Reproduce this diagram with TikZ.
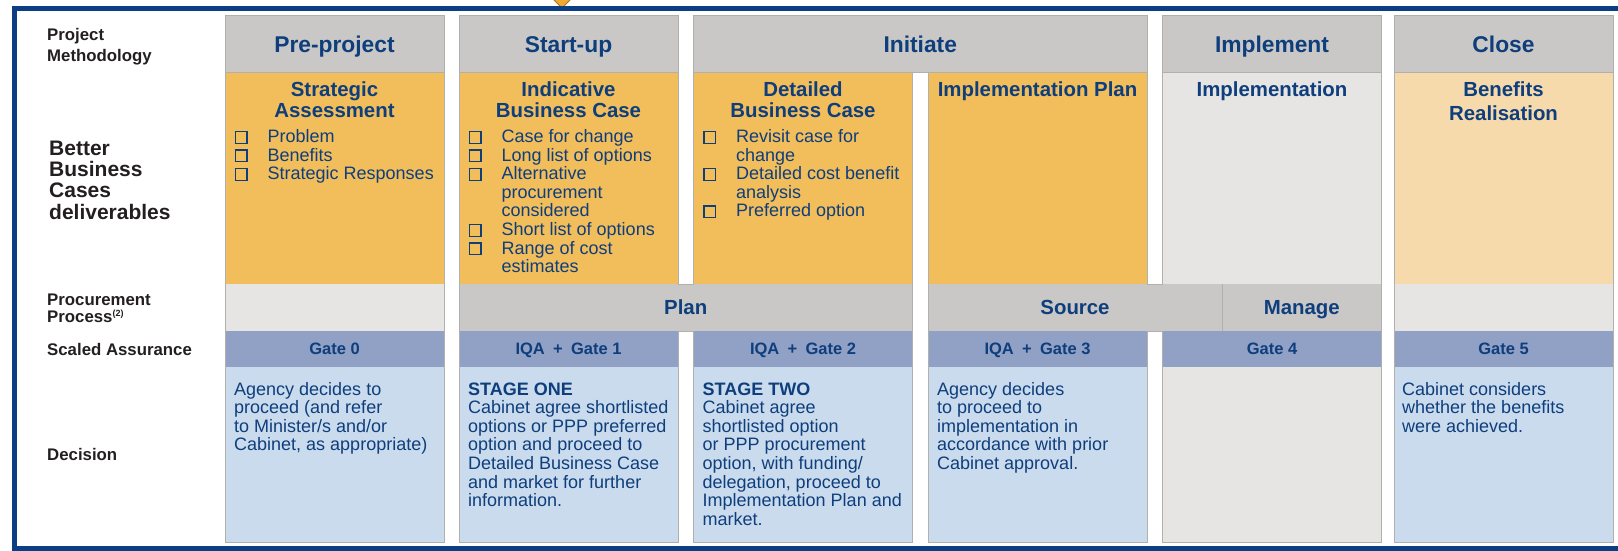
\documentclass[tikz,border=0pt]{standalone}
\usepackage{fontspec}
\setmainfont{Liberation Sans}
\usetikzlibrary{positioning}

\definecolor{frameblue}{RGB}{12,62,132}
\definecolor{inkblue}{RGB}{14,62,124}
\definecolor{labink}{RGB}{35,31,32}
\definecolor{phasegray}{RGB}{201,200,198}
\definecolor{edgegray}{RGB}{176,176,174}
\definecolor{bbcorange}{RGB}{242,189,91}
\definecolor{bbcpale}{RGB}{247,218,172}
\definecolor{palegray}{RGB}{230,229,228}
\definecolor{gateblue}{RGB}{145,160,197}
\definecolor{decblue}{RGB}{202,219,237}
\definecolor{markorange}{RGB}{240,170,50}

% empty tick box in front of each deliverable
\newcommand{\chkbox}{{\setlength{\fboxsep}{0pt}\setlength{\fboxrule}{1.3pt}\fbox{\rule{0pt}{10.4pt}\hspace{10.4pt}}}}
% stacked lines whose baseline is the first one
\newcommand{\textlines}[2][l]{\begin{tabular}[t]{@{}#1@{}}#2\end{tabular}}

\begin{document}
\begin{tikzpicture}[x=1pt,y=-1pt,
  cell/.style={anchor=north west,inner sep=0pt,outer sep=0pt,minimum width=219pt,text=inkblue},
  phase/.style={cell,fill=phasegray,draw=edgegray,line width=1pt,minimum height=56.6pt,text height=16.3pt,text depth=0pt,font=\fontsize{22.8}{24}\selectfont\bfseries},
  bbc/.style={cell,fill=#1,minimum height=211.4pt},
  proc/.style={cell,fill=#1,minimum height=47pt,text height=14.6pt,text depth=0pt,font=\fontsize{20.4}{22}\selectfont\bfseries},
  gate/.style={cell,fill=gateblue,minimum height=36pt,text height=11.8pt,text depth=0pt,font=\fontsize{16.5}{18}\selectfont\bfseries},
  dec/.style={cell,fill=#1,minimum height=175pt},
  edge/.style={draw=edgegray,line width=1pt},
  ttl/.style={anchor=base,inner sep=0pt,text=inkblue,font=\fontsize{20.4}{21}\selectfont\bfseries},
  txt/.style={anchor=base west,inner sep=0pt,text=inkblue,font=\fontsize{18}{18.6}\selectfont},
  lab/.style={anchor=base west,inner sep=0pt,text=labink,font=\fontsize{16.8}{21}\selectfont\bfseries}]
\useasboundingbox (0,0) rectangle (1618,551);

% outer frame and the marker above Start-up
\draw[fill=markorange,draw=markorange!70!black,line width=0.8pt] (550,-4) -- (562,-16) -- (574,-4) -- (562,8) -- cycle;
\draw[frameblue,line width=5pt] (14.2,8.5) rectangle (1650,548.5);

% row labels
\node[lab] (labPM) at (47,41) {\textlines{Project\\Methodology}};
\node[lab,font=\fontsize{21}{21}\selectfont\bfseries] (labBBC) at (49,155) {\textlines{Better\\Business\\Cases\\deliverables}};
\node[lab,font=\fontsize{16.8}{17.6}\selectfont\bfseries] (labProc) at (47,305) {\textlines{Procurement\\Process\raisebox{6pt}{\fontsize{9}{9}\selectfont(2)}}};
\node[lab] (labSA) at (47,355) {Scaled Assurance};
\node[lab] (labDec) at (47,460.5) {Decision};

% phases
\node[phase] (pre) at (225,16) {Pre-project};
\node[phase] (startup) at (459,16) {Start-up};
\node[phase,minimum width=453.5pt] (initiate) at (693.5,16) {Initiate};
\node[phase] (implement) at (1162.5,16) {Implement};
\node[phase] (close) at (1394,16) {Close};

% deliverables
\node[bbc=bbcorange] (bbc1) at (225,72.6) {};
\node[bbc=bbcorange] (bbc2) at (459,72.6) {};
\node[bbc=bbcorange] (bbc3) at (693.5,72.6) {};
\node[bbc=bbcorange] (bbc4) at (928,72.6) {};
\node[bbc=palegray] (bbc5) at (1162.5,72.6) {};
\node[bbc=bbcpale] (bbc6) at (1394,72.6) {};

% procurement process
\node[proc=palegray] (proc1) at (225,284) {};
\node[proc=phasegray,minimum width=453.5pt] (plan) at (459,284) {Plan};
\node[proc=phasegray,minimum width=294pt] (source) at (928,284) {Source};
\node[proc=phasegray,minimum width=159.5pt] (manage) at (1222,284) {Manage};
\node[proc=palegray] (proc6) at (1394,284) {};

% assurance gates
\node[gate] (g0) at (225,331) {Gate 0};
\node[gate] (g1) at (459,331) {IQA\enspace+\enspace Gate 1};
\node[gate] (g2) at (693.5,331) {IQA\enspace+\enspace Gate 2};
\node[gate] (g3) at (928,331) {IQA\enspace+\enspace Gate 3};
\node[gate] (g4) at (1162.5,331) {Gate 4};
\node[gate] (g5) at (1394,331) {Gate 5};

% decisions
\node[dec=decblue] (dec1) at (225,367) {};
\node[dec=decblue] (dec2) at (459,367) {};
\node[dec=decblue] (dec3) at (693.5,367) {};
\node[dec=decblue] (dec4) at (928,367) {};
\node[dec=palegray] (dec5) at (1162.5,367) {};
\node[dec=decblue] (dec6) at (1394,367) {};

% column outlines (bands in the procurement row run across the gaps)
\draw[edge] (bbc1.north west) -- (dec1.south west) -- (dec1.south east) -- (bbc1.north east);
\draw[edge] (bbc2.north west) -- (dec2.south west) -- (dec2.south east) -- (g1.north east)
  (bbc2.north east) -- (bbc2.south east) -- (bbc3.south west)
  (g1.north east) -- (g2.north west);
\draw[edge] (bbc3.north east) -- (dec3.south east) -- (dec3.south west) -- (g2.north west)
  (bbc3.north west) -- (bbc3.south west);
\draw[edge] (bbc4.north west) -- (dec4.south west) -- (dec4.south east) -- (g3.north east)
  (bbc4.north east) -- (bbc4.south east) -- (bbc5.south west)
  (g3.north east) -- (g4.north west);
\draw[edge] (bbc5.north east) -- (dec5.south east) -- (dec5.south west) -- (g4.north west)
  (bbc5.north west) -- (bbc5.south west)
  (manage.north west) -- (manage.south west);
\draw[edge] (bbc6.north west) -- (dec6.south west) -- (dec6.south east) -- (bbc6.north east);

% business case titles and checklists
\node[ttl] (sa) at ([yshift=-23.4pt]bbc1.north) {\textlines[c]{Strategic\\Assessment}};
\node[ttl] (ibc) at ([yshift=-23.4pt]bbc2.north) {\textlines[c]{Indicative\\Business Case}};
\node[ttl] (dbc) at ([yshift=-23.4pt]bbc3.north) {\textlines[c]{Detailed\\Business Case}};
\node[ttl] (ip) at ([yshift=-23.4pt]bbc4.north) {Implementation Plan};
\node[ttl] (impl) at ([yshift=-23.4pt]bbc5.north) {Implementation};
\node[ttl,font=\fontsize{20.4}{24.8}\selectfont\bfseries] (br) at ([yshift=-23.4pt]bbc6.north) {\textlines[c]{Benefits\\Realisation}};

\node[txt] (saList) at ([xshift=9.5pt,yshift=-69.9pt]bbc1.north west) {\begin{tabular}[t]{@{}l@{\hspace{20pt}}l@{}}
  \chkbox & Problem\\
  \chkbox & Benefits\\
  \chkbox & Strategic Responses
\end{tabular}};
\node[txt] (ibcList) at ([xshift=9.5pt,yshift=-69.9pt]bbc2.north west) {\begin{tabular}[t]{@{}l@{\hspace{20pt}}l@{}}
  \chkbox & Case for change\\
  \chkbox & Long list of options\\
  \chkbox & Alternative\\
          & procurement\\
          & considered\\
  \chkbox & Short list of options\\
  \chkbox & Range of cost\\
          & estimates
\end{tabular}};
\node[txt] (dbcList) at ([xshift=9.5pt,yshift=-69.9pt]bbc3.north west) {\begin{tabular}[t]{@{}l@{\hspace{20pt}}l@{}}
  \chkbox & Revisit case for\\
          & change\\
  \chkbox & Detailed cost benefit\\
          & analysis\\
  \chkbox & Preferred option
\end{tabular}};

% decision texts
\node[txt] (decTxt1) at ([xshift=9pt,yshift=-28pt]dec1.north west) {\textlines{Agency decides to\\proceed (and refer\\to Minister/s and/or\\Cabinet, as appropriate)}};
\node[txt] (decTxt2) at ([xshift=9pt,yshift=-28pt]dec2.north west) {\textlines{\textbf{STAGE ONE}\\Cabinet agree shortlisted\\options or PPP preferred\\option and proceed to\\Detailed Business Case\\and market for further\\information.}};
\node[txt] (decTxt3) at ([xshift=9pt,yshift=-28pt]dec3.north west) {\textlines{\textbf{STAGE TWO}\\Cabinet agree\\shortlisted option\\or PPP procurement\\option, with funding/\\delegation, proceed to\\Implementation Plan and\\market.}};
\node[txt] (decTxt4) at ([xshift=9pt,yshift=-28pt]dec4.north west) {\textlines{Agency decides\\to proceed to\\implementation in\\accordance with prior\\Cabinet approval.}};
\node[txt] (decTxt6) at ([xshift=8pt,yshift=-28pt]dec6.north west) {\textlines{Cabinet considers\\whether the benefits\\were achieved.}};
\end{tikzpicture}
\end{document}
